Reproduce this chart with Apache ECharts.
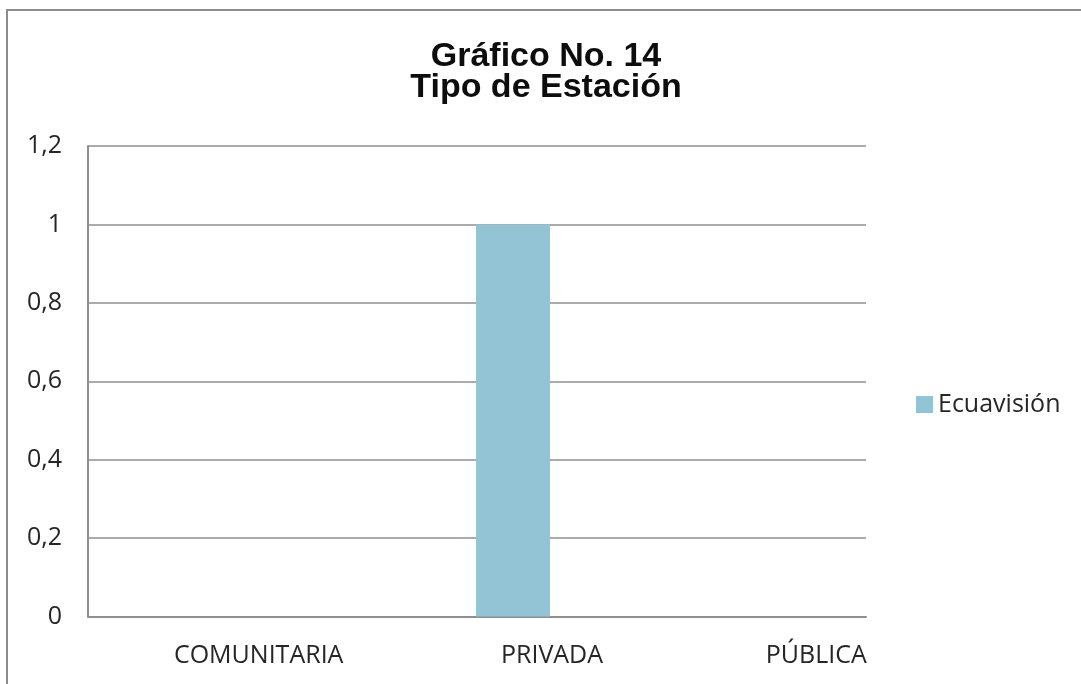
<!DOCTYPE html>
<html>
<head>
<meta charset="utf-8">
<script src="https://cdn.jsdelivr.net/npm/echarts@6/dist/echarts.min.js"></script>
<style>
  html, body { margin: 0; padding: 0; background: #ffffff; }
  #chart { width: 1081px; height: 684px; }
</style>
</head>
<body>
<div id="chart"></div>
<script>
// Chart data
const categories = ['COMUNITARIA', 'PRIVADA', 'PÚBLICA'];
const seriesName = 'Ecuavisión';
const ecuavisionValues = [0, 1, 0];
const yTicks = [0, 0.2, 0.4, 0.6, 0.8, 1, 1.2];

// Layout
const labelFont = '"Open Sans", "Noto Sans", sans-serif';
const labelColor = '#262626';
const labelShift = [41, 75, 80];   // horizontal nudge of each category label (px)
const barShift = 36;               // bars sit right of the category centre (px)
const plot = { left: 88, right: 215, top: 146, bottom: 67.5 };

const rich = {};
categories.forEach((c, i) => {
  rich['c' + i] = {
    fontFamily: labelFont, fontSize: 25, color: labelColor,
    padding: [0, 0, 0, labelShift[i] * 2]
  };
});

const chart = echarts.init(document.getElementById('chart'), null, { renderer: 'canvas' });

chart.setOption({
  backgroundColor: '#ffffff',
  animation: false,
  title: {
    text: 'Gráfico No. 14\nTipo de Estación',
    left: 546,
    top: 41,
    padding: 0,
    textAlign: 'center',
    textStyle: {
      fontFamily: '"Liberation Sans", Arial, sans-serif',
      fontWeight: 'bold',
      fontSize: 34,
      lineHeight: 31,
      color: '#0d0d0d'
    }
  },
  legend: {
    data: [seriesName],
    left: 911,
    top: 387,
    itemWidth: 17,
    itemHeight: 17,
    icon: 'rect',
    textStyle: { fontFamily: labelFont, fontSize: 25, color: labelColor }
  },
  graphic: [{
    type: 'rect',
    shape: { x: 7, y: 10, width: 1200, height: 800 },
    style: { fill: 'none', stroke: '#8c8c8c', lineWidth: 2 },
    silent: true
  }],
  grid: [
    { left: plot.left, right: plot.right, top: plot.top, bottom: plot.bottom, containLabel: false },
    { left: plot.left + barShift, right: plot.right - barShift, top: plot.top, bottom: plot.bottom, containLabel: false }
  ],
  xAxis: [
    {
      gridIndex: 0,
      type: 'category',
      data: categories,
      axisTick: { show: false },
      axisLine: { show: true, lineStyle: { color: '#8f8f8f', width: 2 } },
      axisLabel: {
        margin: 27,
        interval: 0,
        formatter: (v) => '{c' + categories.indexOf(v) + '|' + v + '}',
        rich: rich
      }
    },
    {
      gridIndex: 1,
      type: 'category',
      data: categories,
      show: false
    }
  ],
  yAxis: [
    {
      gridIndex: 0,
      type: 'value',
      min: yTicks[0],
      max: yTicks[yTicks.length - 1],
      interval: 0.2,
      axisLine: { show: true, lineStyle: { color: '#8f8f8f', width: 2 } },
      axisTick: { show: false },
      splitLine: { show: true, lineStyle: { color: '#8f8f8f', width: 1.5 } },
      axisLabel: {
        margin: 26,
        fontFamily: labelFont,
        fontSize: 25,
        color: labelColor,
        formatter: (v) => String(Math.round(v * 10) / 10).replace('.', ',')
      }
    },
    {
      gridIndex: 1,
      type: 'value',
      min: yTicks[0],
      max: yTicks[yTicks.length - 1],
      interval: 0.2,
      show: false
    }
  ],
  series: [{
    name: seriesName,
    type: 'bar',
    xAxisIndex: 1,
    yAxisIndex: 1,
    data: ecuavisionValues,
    barWidth: 74,
    itemStyle: { color: '#92C4D5' }
  }]
});
</script>
</body>
</html>
